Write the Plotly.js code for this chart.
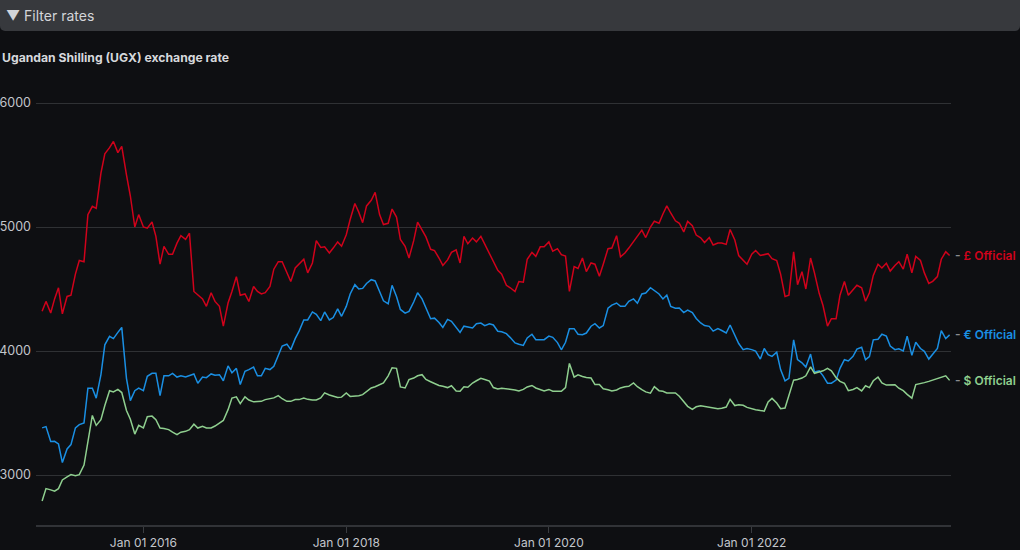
<!DOCTYPE html>
<html>
<head>
<meta charset="utf-8">
<script src="https://cdn.plot.ly/plotly-3.0.1.min.js"></script>
<style>
  html, body { margin: 0; padding: 0; background: #0e0f12; width: 1020px; height: 550px; overflow: hidden; }
  #bar { position: absolute; left: 0; top: 0; width: 1020px; height: 31px; background: #37393d;
         border-radius: 0 0 5px 5px; color: #d3d5d9; font-family: Inter, "Noto Sans", sans-serif;
         font-size: 14px; line-height: 31px; padding-left: 6px; box-sizing: border-box; z-index: 5; }
  #chart { position: absolute; left: 0; top: 0; width: 1020px; height: 550px; }
</style>
</head>
<body>
<div id="chart"></div>
<div id="bar">▼ Filter rates</div>
<script>
const dates = [
"2015-01-01","2015-01-15","2015-02-01","2015-02-15","2015-03-01","2015-03-15","2015-04-01","2015-04-15","2015-05-01","2015-05-15","2015-06-01","2015-06-15","2015-07-01","2015-07-15","2015-08-01","2015-08-15","2015-09-01","2015-09-15","2015-10-01","2015-10-15","2015-11-01","2015-11-15","2015-12-01","2015-12-15",
"2016-01-01","2016-01-15","2016-02-01","2016-02-15","2016-03-01","2016-03-15","2016-04-01","2016-04-15","2016-05-01","2016-05-15","2016-06-01","2016-06-15","2016-07-01","2016-07-15","2016-08-01","2016-08-15","2016-09-01","2016-09-15","2016-10-01","2016-10-15","2016-11-01","2016-11-15","2016-12-01","2016-12-15",
"2017-01-01","2017-01-15","2017-02-01","2017-02-15","2017-03-01","2017-03-15","2017-04-01","2017-04-15","2017-05-01","2017-05-15","2017-06-01","2017-06-15","2017-07-01","2017-07-15","2017-08-01","2017-08-15","2017-09-01","2017-09-15","2017-10-01","2017-10-15","2017-11-01","2017-11-15","2017-12-01","2017-12-15",
"2018-01-01","2018-01-15","2018-02-01","2018-02-15","2018-03-01","2018-03-15","2018-04-01","2018-04-15","2018-05-01","2018-05-15","2018-06-01","2018-06-15","2018-07-01","2018-07-15","2018-08-01","2018-08-15","2018-09-01","2018-09-15","2018-10-01","2018-10-15","2018-11-01","2018-11-15","2018-12-01","2018-12-15",
"2019-01-01","2019-01-15","2019-02-01","2019-02-15","2019-03-01","2019-03-15","2019-04-01","2019-04-15","2019-05-01","2019-05-15","2019-06-01","2019-06-15","2019-07-01","2019-07-15","2019-08-01","2019-08-15","2019-09-01","2019-09-15","2019-10-01","2019-10-15","2019-11-01","2019-11-15","2019-12-01","2019-12-15",
"2020-01-01","2020-01-15","2020-02-01","2020-02-15","2020-03-01","2020-03-15","2020-04-01","2020-04-15","2020-05-01","2020-05-15","2020-06-01","2020-06-15","2020-07-01","2020-07-15","2020-08-01","2020-08-15","2020-09-01","2020-09-15","2020-10-01","2020-10-15","2020-11-01","2020-11-15","2020-12-01","2020-12-15",
"2021-01-01","2021-01-15","2021-02-01","2021-02-15","2021-03-01","2021-03-15","2021-04-01","2021-04-15","2021-05-01","2021-05-15","2021-06-01","2021-06-15","2021-07-01","2021-07-15","2021-08-01","2021-08-15","2021-09-01","2021-09-15","2021-10-01","2021-10-15","2021-11-01","2021-11-15","2021-12-01","2021-12-15",
"2022-01-01","2022-01-15","2022-02-01","2022-02-15","2022-03-01","2022-03-15","2022-04-01","2022-04-15","2022-05-01","2022-05-15","2022-06-01","2022-06-15","2022-07-01","2022-07-15","2022-08-01","2022-08-15","2022-09-01","2022-09-15","2022-10-01","2022-10-15","2022-11-01","2022-11-15","2022-12-01","2022-12-15",
"2023-01-01","2023-01-15","2023-02-01","2023-02-15","2023-03-01","2023-03-15","2023-04-01","2023-04-15","2023-05-01","2023-05-15","2023-06-01","2023-06-15","2023-07-01","2023-07-15","2023-08-01","2023-08-15","2023-09-01","2023-09-15","2023-10-01","2023-10-15","2023-11-01","2023-11-15","2023-12-01","2023-12-15"
];

const gbpOfficial = [
4320,4400,4306,4420,4510,4300,4440,4450,4620,4730,4720,5100,5167,5150,5435,5590,5640,5690,5600,5650,5420,5250,5000,5100,
5000,4990,5040,4925,4700,4844,4780,4780,4870,4930,4900,4950,4480,4450,4420,4360,4470,4400,4360,
4200,4387,4480,4600,4450,4460,4400,4520,4481,4460,4470,4520,4660,4720,4720,4640,4560,4670,4705,4740,4630,4710,4890,4835,4840,4790,4830,4880,4845,4938,5060,5190,5120,5035,5170,5215,5280,5100,5020,5030,5145,5080,4900,4844,
4750,4890,5040,4978,4920,4820,4810,4750,4690,4735,4795,4815,4710,4925,4865,4911,4880,4925,4860,4785,4730,4650,4620,4530,4510,4480,4560,4555,4740,4795,4763,4840,4840,4880,4805,4825,4777,4765,4480,4680,4665,4750,4640,4710,
4700,4602,4700,4825,4830,4930,4760,4790,4830,4885,4922,4975,4915,5000,5046,5030,5105,5170,5113,5050,5030,4960,5045,5010,4935,4913,4875,4915,4855,4871,4870,4860,4980,4895,4770,4735,4700,4780,4810,4770,4778,4785,4745,
4730,4620,4440,4450,4800,4535,4640,4500,4750,4630,4465,4365,4200,4260,4260,4450,4560,4450,4495,4530,4510,4401,4470,4610,4700,4670,4708,4645,4690,4720,4660,4780,4630,4763,4730,4630,4545,4562,4600,4740,4800,4770
];

const eurOfficial = [
3380,3390,3270,3272,3250,3100,3210,3245,3380,3406,3420,3700,3700,3620,3810,4050,4118,4100,4150,4190,3780,3600,3680,3700,
3680,3796,3820,3820,3640,3800,3800,3820,3790,3800,3790,3800,3815,3740,3790,3785,3815,3805,3809,
3760,3880,3825,3860,3730,3836,3850,3870,3800,3800,3860,3850,3876,3965,4040,4055,4011,4100,4160,4250,4250,4315,4295,4245,4315,4250,4270,4340,4280,4360,4460,4535,4500,4505,4545,4575,4565,4480,4405,4380,4530,4440,4335,4306,
4320,4395,4470,4420,4350,4260,4265,4230,4190,4255,4240,4190,4150,4200,4195,4186,4220,4225,4205,4220,4210,4159,4155,4140,4108,4065,4055,4045,4105,4135,4091,4091,4091,4120,4110,4068,4010,4070,4180,4180,4135,4132,4145,4200,
4220,4186,4205,4345,4370,4387,4360,4360,4400,4420,4385,4460,4468,4510,4485,4460,4420,4450,4360,4345,4347,4310,4330,4310,4262,4226,4205,4199,4160,4180,4165,4145,4210,4130,4060,4011,4020,4011,4000,3935,4020,3970,3957,
3990,3850,3760,3780,4090,3930,3905,3870,3975,3830,3840,3800,3740,3740,3765,3860,3930,3920,3957,4015,4030,3930,3955,4090,4095,4135,4120,4040,4011,4018,4000,4120,3965,4070,4020,3997,3935,3975,4020,4165,4100,4130
];

const usdOfficial = [
2790,2890,2880,2870,2890,2960,2985,3003,2995,3003,3080,3285,3480,3400,3446,3560,3680,3670,3690,3665,3520,3450,3330,3400,
3380,3470,3475,3446,3379,3375,3366,3345,3325,3345,3352,3366,3410,3379,3393,3379,3380,3395,3419,
3440,3527,3620,3630,3575,3630,3605,3590,3590,3594,3608,3613,3622,3640,3615,3594,3594,3608,3608,3620,3610,3605,3605,3621,3662,3645,3634,3625,3628,3661,3634,3634,3640,3648,3670,3702,3712,3728,3742,3800,3865,3860,3710,3702,
3769,3782,3800,3809,3770,3752,3738,3722,3715,3705,3720,3678,3675,3712,3708,3742,3760,3780,3770,3758,3705,3694,3700,3696,3692,3686,3678,3690,3710,3722,3702,3690,3678,3690,3676,3675,3675,3705,3900,3790,3808,3795,3786,3782,
3729,3729,3695,3688,3678,3686,3702,3712,3715,3742,3712,3688,3670,3660,3712,3680,3675,3662,3661,3661,3635,3590,3554,3530,3550,3559,3554,3545,3540,3535,3538,3548,3610,3560,3567,3562,3545,3532,3527,3520,3515,3590,3618,
3580,3535,3540,3640,3765,3770,3782,3800,3872,3820,3830,3840,3860,3840,3785,3755,3740,3680,3690,3705,3678,3720,3705,3760,3790,3742,3725,3725,3728,3700,3680,3650,3620,3729,3735,3745,3755,3765,3780,3790,3800,3763
];

const seriesNames = ["£ Official", "€ Official", "$ Official"];
const seriesValues = [gbpOfficial, eurOfficial, usdOfficial];
const seriesColors = ["#d0021b", "#1a8fe3", "#8fcf8f"];
const yTicks = [3000, 4000, 5000, 6000];
const xTick0 = "2016-01-01";
const chartTitle = "Ugandan Shilling (UGX) exchange rate";

const traces = seriesValues.map((vals, k) => ({
  type: "scatter", mode: "lines", x: dates, y: vals, name: seriesNames[k],
  line: { color: seriesColors[k], width: 1.5 }, hoverinfo: "skip"
}));

const annotations = seriesValues.map((vals, k) => ({
  x: dates[dates.length - 1], y: vals[vals.length - 1], xref: "x", yref: "y",
  xanchor: "left", yanchor: "middle", showarrow: false, xshift: 3,
  text: '<span style="color:#8a8c90">-</span> ' + seriesNames[k],
  font: { family: "Inter, 'Noto Sans', sans-serif", size: 12, color: seriesColors[k], weight: 600 }
}));

const layout = {
  width: 1020, height: 550,
  paper_bgcolor: "#0e0f12", plot_bgcolor: "#0e0f12",
  margin: { l: 36, r: 69, t: 80, b: 25 },
  showlegend: false,
  font: { family: "Inter, 'Noto Sans', sans-serif", color: "#c3c6cc" },
  title: {
    text: "<b>" + chartTitle + "</b>",
    xref: "container", yref: "container", x: 0.002, xanchor: "left", y: 1 - 58 / 550, yanchor: "middle",
    font: { family: "Inter, 'Noto Sans', sans-serif", size: 12.2, color: "#d6d8dc" }
  },
  xaxis: {
    type: "date", range: ["2014-12-10", "2023-12-20"],
    showgrid: false, zeroline: false, showline: true, linecolor: "#313337", linewidth: 2,
    ticks: "outside", ticklen: 6, tickcolor: "#3a3c40", tickwidth: 1,
    tick0: xTick0, dtick: "M24", tickformat: "%b %d %Y",
    tickfont: { size: 12, color: "#c3c6cc" }, fixedrange: true
  },
  yaxis: {
    range: [2596.8, 6185.5], tickvals: yTicks, ticktext: yTicks.map(String),
    showgrid: true, gridcolor: "#2f3134", gridwidth: 1, zeroline: false, showline: false,
    ticks: "", ticklabelstandoff: 4, tickfont: { size: 12.5, color: "#c3c6cc" }, fixedrange: true
  },
  annotations: annotations,
  hovermode: false
};

Plotly.newPlot("chart", traces, layout, { displayModeBar: false, staticPlot: true });
</script>
</body>
</html>
